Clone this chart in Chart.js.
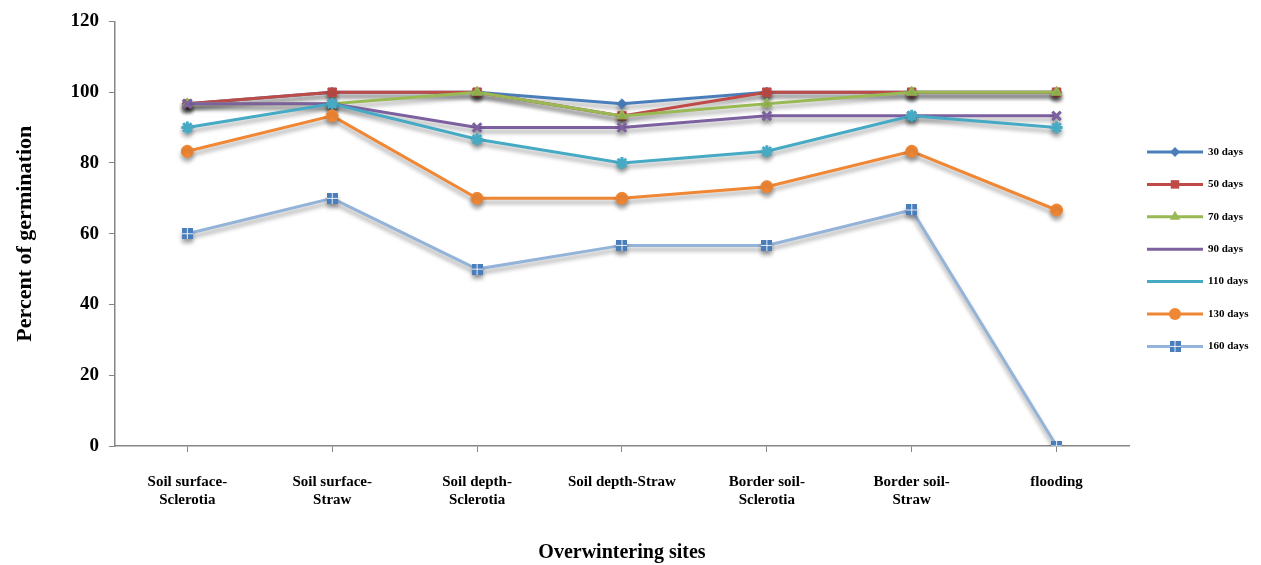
<!DOCTYPE html>
<html lang="en">
<head>
  <meta charset="UTF-8">
  <title>Percent of germination by overwintering site</title>
  <script src="https://cdn.jsdelivr.net/npm/chart.js"></script>
  <style>
    html, body { margin: 0; padding: 0; background: #fff; }
    .chart-box { width: 1261px; height: 565px; position: relative; }
  </style>
</head>
<body>

<div class="chart-box">
  <canvas id="germChart"></canvas>
</div>

<script>
// overwintering sites (x axis)
const sites = [
  ['Soil surface-', 'Sclerotia'],
  ['Soil surface-', 'Straw'],
  ['Soil depth-', 'Sclerotia'],
  ['Soil depth-Straw'],
  ['Border soil-', 'Sclerotia'],
  ['Border soil-', 'Straw'],
  ['flooding']
];

const seriesNames = ['30 days', '50 days', '70 days', '90 days', '110 days', '130 days', '160 days'];

// percent of germination per storage period
const days30  = [96.7, 100, 100, 96.7, 100, 100, 100];
const days50  = [96.7, 100, 100, 93.3, 100, 100, 100];
const days70  = [96.7, 96.7, 100, 93.3, 96.7, 100, 100];
const days90  = [96.7, 96.7, 90, 90, 93.3, 93.3, 93.3];
const days110 = [90, 96.7, 86.7, 80, 83.3, 93.3, 90];
const days130 = [83.3, 93.3, 70, 70, 73.3, 83.3, 66.7];
const days160 = [60, 70, 50, 56.7, 56.7, 66.7, 0];

const yTicks = [0, 20, 40, 60, 80, 100, 120];

const serif = '"Liberation Serif", "Times New Roman", serif';

// square marker with a white cross, like the office "plus box" marker
function plusBox(fill) {
  const c = document.createElement('canvas');
  c.width = 11; c.height = 11;
  const g = c.getContext('2d');
  g.fillStyle = fill;
  g.fillRect(0, 0, 11, 11);
  g.fillStyle = 'rgba(255,255,255,0.85)';
  g.fillRect(5, 0, 1, 11);
  g.fillRect(0, 5, 11, 1);
  return c;
}

const looks = [
  { color: '#4A7EBB', point: 'rectRot', radius: 5 },
  { color: '#BE4B48', point: 'rect', radius: 6 },
  { color: '#98B954', point: 'triangle', radius: 6 },
  { color: '#7D60A0', point: 'crossRot', radius: 6 },
  { color: '#46AAC5', point: 'star', radius: 6 },
  { color: '#F08735', point: 'circle', radius: 6 },
  { color: '#94B3D8', point: plusBox('#4A7EBB'), radius: 6, pointColor: '#4A7EBB' }
];

const values = [days30, days50, days70, days90, days110, days130, days160];

const datasets = values.map((vals, i) => ({
  label: seriesNames[i],
  data: vals,
  borderColor: looks[i].color,
  backgroundColor: looks[i].pointColor || looks[i].color,
  pointBorderColor: looks[i].pointColor || looks[i].color,
  pointBackgroundColor: looks[i].pointColor || looks[i].color,
  pointStyle: looks[i].point,
  pointRadius: looks[i].radius,
  pointBorderWidth: looks[i].point === 'crossRot' || looks[i].point === 'star' ? 3 : 1,
  borderWidth: 3,
  tension: 0,
  order: values.length - i
}));

// soft drop shadow under lines and markers
const shadowPlugin = {
  id: 'shadow',
  beforeDatasetsDraw(chart) {
    const ctx = chart.ctx;
    ctx.save();
    ctx.shadowColor = 'rgba(0,0,0,0.35)';
    ctx.shadowBlur = 4;
    ctx.shadowOffsetX = 0;
    ctx.shadowOffsetY = 4;
  },
  afterDatasetsDraw(chart) {
    chart.ctx.restore();
  }
};

// legend with a short line and the marker in its middle
const sideLegend = {
  id: 'sideLegend',
  afterDraw(chart) {
    const ctx = chart.ctx;
    const x0 = 1147, x1 = 1203, top = 152, step = 32.4;
    chart.data.datasets.forEach((ds, i) => {
      const y = top + i * step;
      ctx.save();
      ctx.strokeStyle = ds.borderColor;
      ctx.lineWidth = 3;
      ctx.beginPath();
      ctx.moveTo(x0, y);
      ctx.lineTo(x1, y);
      ctx.stroke();
      ctx.fillStyle = ds.pointBackgroundColor;
      ctx.strokeStyle = ds.pointBorderColor;
      ctx.lineWidth = ds.pointBorderWidth;
      Chart.helpers.drawPoint(ctx, { pointStyle: ds.pointStyle, radius: ds.pointRadius, rotation: 0 }, (x0 + x1) / 2, y);
      ctx.fillStyle = '#000';
      ctx.font = 'bold 11px ' + serif;
      ctx.textBaseline = 'middle';
      ctx.textAlign = 'left';
      ctx.fillText(ds.label, 1208, y);
      ctx.restore();
    });
  }
};

new Chart(document.getElementById('germChart'), {
  type: 'line',
  data: { labels: sites, datasets: datasets },
  plugins: [shadowPlugin, sideLegend],
  options: {
    responsive: true,
    maintainAspectRatio: false,
    animation: false,
    layout: { padding: { top: 5, right: 132, bottom: 0, left: 12 } },
    plugins: {
      legend: { display: false },
      tooltip: { enabled: false }
    },
    scales: {
      x: {
        offset: true,
        grid: {
          offset: false,
          drawOnChartArea: false,
          drawTicks: true,
          tickLength: 6,
          color: '#868686'
        },
        border: { color: '#868686', width: 1.5 },
        ticks: {
          color: '#000',
          font: { family: serif, size: 15, weight: 'bold' },
          padding: 21,
          maxRotation: 0,
          autoSkip: false
        },
        title: {
          display: true,
          text: 'Overwintering sites',
          color: '#000',
          font: { family: serif, size: 20, weight: 'bold' },
          padding: { top: 11, bottom: 0 }
        }
      },
      y: {
        min: 0,
        max: 120,
        afterBuildTicks(scale) {
          scale.ticks = yTicks.map(v => ({ value: v }));
        },
        grid: {
          drawOnChartArea: false,
          drawTicks: true,
          tickLength: 6,
          color: '#868686'
        },
        border: { color: '#868686', width: 1.5 },
        ticks: {
          color: '#000',
          font: { family: serif, size: 19, weight: 'bold' },
          padding: 10
        },
        title: {
          display: true,
          text: 'Percent of germination',
          color: '#000',
          font: { family: serif, size: 22, weight: 'bold' },
          padding: { top: 0, bottom: 22 }
        }
      }
    }
  }
});
</script>

</body>
</html>
